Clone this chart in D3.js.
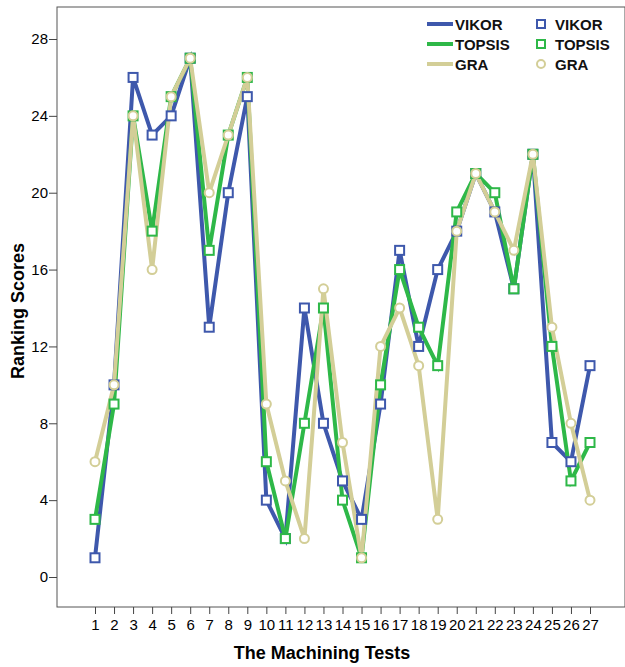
<!DOCTYPE html>
<html>
<head>
<meta charset="utf-8">
<script src="https://cdn.jsdelivr.net/npm/d3@7"></script>
<style>
  body { margin: 0; background: #fff; }
  svg { display: block; font-family: "Liberation Sans", Arial, sans-serif; }
</style>
</head>
<body>
<div id="chart"></div>
<script>
// machining tests 1..27
var tests = d3.range(1, 28);
var vikor  = [1, 10, 26, 23, 24, 27, 13, 20, 25, 4, 2, 14, 8, 5, 3, 9, 17, 12, 16, 18, 21, 19, 15, 22, 7, 6, 11];
var topsis = [3, 9, 24, 18, 25, 27, 17, 23, 26, 6, 2, 8, 14, 4, 1, 10, 16, 13, 11, 19, 21, 20, 15, 22, 12, 5, 7];
var gra    = [6, 10, 24, 16, 25, 27, 20, 23, 26, 9, 5, 2, 15, 7, 1, 12, 14, 11, 3, 18, 21, 19, 17, 22, 13, 8, 4];
var yTicks = [0, 4, 8, 12, 16, 20, 24, 28];
var seriesNames = ['VIKOR', 'TOPSIS', 'GRA'];
var colors = ['#3e58ac', '#2eb848', '#d3ce97'];
var shapes = ['square', 'square', 'circle'];

var W = 625, H = 667;
var frame = { left: 57, top: 7, right: 625, bottom: 607 };

var svg = d3.select('#chart').append('svg')
  .attr('width', W).attr('height', H);

var x = d3.scaleLinear().domain([1, 27]).range([95, 590]);
var y = d3.scaleLinear().domain([0, 28]).range([577, 39]);

// frame
svg.append('rect')
  .attr('x', frame.left).attr('y', frame.top)
  .attr('width', frame.right - frame.left).attr('height', frame.bottom - frame.top)
  .attr('fill', 'none').attr('stroke', '#555').attr('stroke-width', 1);

// y axis
var yAxis = svg.append('g')
  .attr('transform', 'translate(' + frame.left + ',0)')
  .call(d3.axisLeft(y).tickValues(yTicks).tickSize(8).tickPadding(1));
yAxis.select('.domain').remove();
yAxis.selectAll('line').attr('stroke', '#444');
yAxis.selectAll('text').attr('font-size', 15).attr('fill', '#000')
  .attr('font-family', '"Liberation Sans", Arial, sans-serif');

// x axis
var xAxis = svg.append('g')
  .attr('transform', 'translate(0,' + frame.bottom + ')')
  .call(d3.axisBottom(x).tickValues(tests).tickFormat(d3.format('d')).tickSize(7).tickPadding(5));
xAxis.select('.domain').remove();
xAxis.selectAll('line').attr('stroke', '#444');
xAxis.selectAll('text').attr('font-size', 15).attr('fill', '#000')
  .attr('font-family', '"Liberation Sans", Arial, sans-serif');

// axis titles
svg.append('text')
  .attr('transform', 'translate(24,311) rotate(-90)')
  .attr('text-anchor', 'middle')
  .attr('font-size', 18).attr('font-weight', 'bold').attr('fill', '#000')
  .text('Ranking Scores');
svg.append('text')
  .attr('x', 322).attr('y', 659)
  .attr('text-anchor', 'middle')
  .attr('font-size', 18).attr('font-weight', 'bold').attr('fill', '#000')
  .text('The Machining Tests');

var allSeries = [vikor, topsis, gra];
var line = d3.line()
  .x(function (d, i) { return x(tests[i]); })
  .y(function (d) { return y(d); });

// lines
allSeries.forEach(function (s, k) {
  svg.append('path')
    .datum(s)
    .attr('d', line)
    .attr('fill', 'none')
    .attr('stroke', colors[k])
    .attr('stroke-width', 4)
    .attr('stroke-linejoin', 'miter');
});

// markers
allSeries.forEach(function (s, k) {
  var g = svg.append('g');
  if (shapes[k] === 'square') {
    g.selectAll('rect').data(s).enter().append('rect')
      .attr('x', function (d, i) { return x(tests[i]) - 4.5; })
      .attr('y', function (d) { return y(d) - 4.5; })
      .attr('width', 9).attr('height', 9)
      .attr('fill', '#fff').attr('stroke', colors[k]).attr('stroke-width', 2);
  } else {
    g.selectAll('circle').data(s).enter().append('circle')
      .attr('cx', function (d, i) { return x(tests[i]); })
      .attr('cy', function (d) { return y(d); })
      .attr('r', 4.5)
      .attr('fill', '#fff').attr('stroke', colors[k]).attr('stroke-width', 2);
  }
});

// legend
var legend = svg.append('g');
seriesNames.forEach(function (name, k) {
  var cy = 24 + k * 20;
  legend.append('line')
    .attr('x1', 427).attr('x2', 453).attr('y1', cy).attr('y2', cy)
    .attr('stroke', colors[k]).attr('stroke-width', 4);
  legend.append('text')
    .attr('x', 455).attr('y', cy + 5.5)
    .attr('font-size', 15).attr('font-weight', 'bold').attr('fill', '#111')
    .text(name);
  if (shapes[k] === 'square') {
    legend.append('rect')
      .attr('x', 537).attr('y', cy - 4).attr('width', 8).attr('height', 8)
      .attr('fill', '#fff').attr('stroke', colors[k]).attr('stroke-width', 2);
  } else {
    legend.append('circle')
      .attr('cx', 541).attr('cy', cy).attr('r', 4)
      .attr('fill', '#fff').attr('stroke', colors[k]).attr('stroke-width', 2);
  }
  legend.append('text')
    .attr('x', 555).attr('y', cy + 5.5)
    .attr('font-size', 15).attr('font-weight', 'bold').attr('fill', '#111')
    .text(name);
});
</script>
</body>
</html>
